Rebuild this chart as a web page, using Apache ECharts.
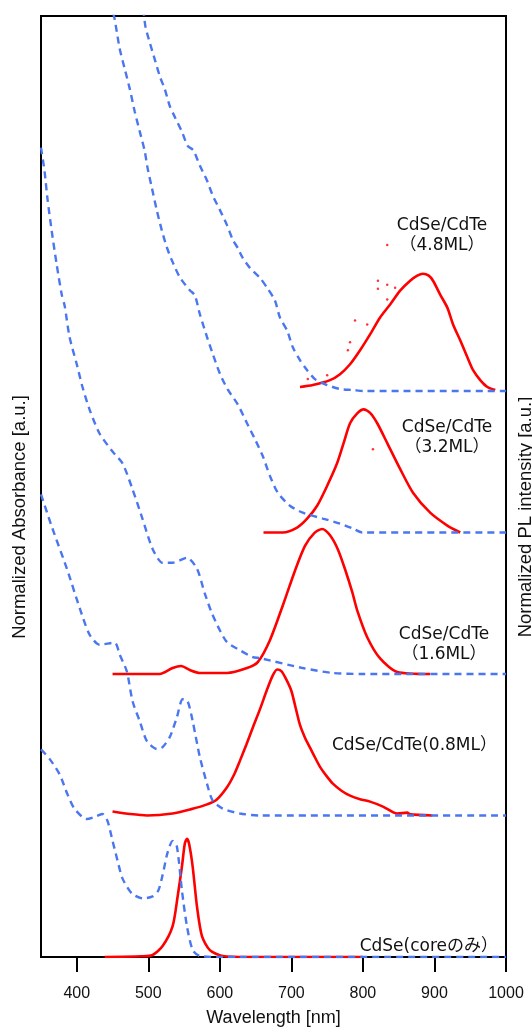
<!DOCTYPE html>
<html>
<head>
<meta charset="utf-8">
<script src="https://cdn.jsdelivr.net/npm/echarts@6/dist/echarts.min.js"></script>
<style>
  html, body { margin: 0; padding: 0; background: #fff; }
  #chart { width: 532px; height: 1032px; }
</style>
</head>
<body>
<div id="chart"></div>
<script>
// wavelength tick values
var WL_TICKS = [400, 500, 600, 700, 800, 900, 1000];

// vertical offset of each sample (in units of one stacking step)
var OFFSETS = [0, 1, 2, 3, 4];

// absorbance (dashed blue) [wavelength nm, normalized value above its baseline]
var absCore = [[350,1.467],[362,1.40],[376,1.291],[387,1.150],[397,1.046],[414,0.975],[428,0.996],[436,1.011],[443,0.961],
  [450,0.821],[457,0.681],[464,0.554],[477,0.449],[492,0.414],[506,0.428],[514,0.47],[520,0.58],[527,0.74],
  [534,0.821],[540,0.779],[547,0.470],[554,0.218],[562,0.049],[572,0.007],[600,0],[1000,0]];
var abs08 = [[350,2.27],[366,2.028],[386,1.747],[404,1.467],[418,1.277],[432,1.207],[453,1.221],[460,1.137],
  [470,1.018],[478,0.807],[488,0.667],[498,0.526],[512,0.470],[520,0.484],[530,0.554],[540,0.695],[548,0.821],
  [555,0.807],[562,0.667],[572,0.414],[582,0.225],[590,0.105],[604,0.049],[628,0.014],[656,0],[1000,0]];
var abs16 = [[350,3.72],[355,3.551],[359,3.361],[365,3.130],[372,2.891],[379,2.681],[383,2.604],[390,2.379],
  [400,2.189],[408,2.028],[418,1.867],[432,1.698],[450,1.572],[464,1.488],[478,1.305],[492,1.095],[506,0.884],
  [520,0.786],[534,0.786],[554,0.821],[568,0.744],[579,0.568],[589,0.428],[600,0.309],[610,0.225],[628,0.168],
  [646,0.119],[656,0.112],[716,0.042],[758,0.007],[800,0],[1000,0]];
var abs32 = [[445,3.75],[452,3.649],[456,3.537],[460,3.418],[467,3.277],[474,3.137],[481,2.975],[488,2.835],
  [495,2.695],[499,2.575],[505,2.435],[512,2.274],[519,2.133],[526,2.014],[533,1.923],[544,1.804],[558,1.712],
  [565,1.677],[572,1.544],[582,1.382],[590,1.263],[600,1.123],[611,1.011],[625,0.905],[638,0.772],[649,0.660],
  [660,0.540],[670,0.400],[681,0.281],[698,0.189],[716,0.140],[744,0.098],[768,0.063],[786,0.028],[799,0],[1000,0]];
var abs48 = [[493,2.70],[496,2.575],[502,2.463],[509,2.344],[516,2.225],[523,2.133],[530,2.014],[537,1.937],
  [547,1.832],[555,1.733],[563,1.70],[572,1.593],[582,1.488],[590,1.382],[600,1.28],[610,1.172],[618,1.07],
  [625,1.011],[632,0.940],[642,0.870],[656,0.800],[666,0.730],[677,0.639],[684,0.519],[694,0.428],[702,0.309],
  [712,0.218],[722,0.147],[733,0.084],[750,0.042],[768,0.014],[786,0.007],[800,0],[1000,0]];

// photoluminescence (solid red)
var plCore = [[439,0],[490,0.005],[506,0.014],[520,0.077],[534,0.218],[541,0.428],[547,0.639],[551,0.800],
  [554,0.835],[557,0.800],[562,0.639],[568,0.358],[575,0.147],[586,0.049],[604,0.007],[640,0],[800,0]];
var pl08 = [[450,0.028],[475,0.01],[498,0],[534,0.014],[560,0.045],[580,0.075],[595,0.11],[610,0.2],[620,0.29],
  [628,0.386],[637,0.5],[646,0.62],[656,0.75],[666,0.89],[674,0.99],[680,1.032],[686,1.02],[693,0.96],[700,0.88],
  [706,0.76],[712,0.64],[719,0.55],[726,0.48],[733,0.41],[740,0.344],[749,0.28],[758,0.225],[770,0.175],[782,0.14],
  [796,0.115],[810,0.098],[828,0.063],[848,0.014],[862,0.02],[866,0.008],[897,0]];
var pl16 = [[450,0],[516,0],[534,0.042],[546,0.056],[558,0.028],[572,0.007],[610,0.007],[638,0.042],[653,0.084],
  [670,0.239],[688,0.484],[705,0.730],[719,0.905],[732,0.996],[743,1.025],[754,0.98],[765,0.88],[775,0.74],
  [785,0.58],[792,0.45],[806,0.26],[824,0.11],[848,0.014],[894,0]];
var pl32 = [[661,0],[688,0],[708,0.035],[722,0.098],[736,0.189],[750,0.330],[764,0.491],[773,0.632],[782,0.772],
  [792,0.842],[801,0.870],[810,0.845],[820,0.772],[834,0.632],[852,0.449],[870,0.281],[894,0.140],[918,0.049],[936,0]];
var pl48 = [[712,0.028],[730,0.042],[754,0.077],[768,0.119],[782,0.189],[796,0.288],[810,0.400],[824,0.519],
  [838,0.611],[852,0.709],[866,0.779],[876,0.815],[884,0.828],[892,0.815],[898,0.779],[908,0.681],[918,0.589],
  [926,0.470],[936,0.358],[946,0.239],[954,0.147],[964,0.077],[974,0.028],[985,0.007]];

// stray PL points (sample index, wavelength, value)
var plStray = [[4,834,1.032],[4,821,0.779],[4,821,0.723],[4,834,0.751],[4,845,0.730],[4,834,0.646],[4,789,0.498],
  [4,806,0.470],[4,782,0.344],[4,779,0.288],[4,750,0.112],[4,723,0.084],[3,814,0.589]];

var absList = [absCore, abs08, abs16, abs32, abs48];
var plList = [plCore, pl08, pl16, pl32, pl48];

var BLUE = '#4a76f0';
var RED = '#ff0000';
var LBL = '"DejaVu Sans", "Noto Sans CJK JP", sans-serif';
var SANS = '"Liberation Sans", Arial, sans-serif';

function lift(pts, k) {
  return pts.map(function (p) { return [p[0], p[1] + OFFSETS[k]]; });
}

var series = [];
plList.forEach(function (pts, k) {
  series.push({
    type: 'line', data: lift(pts, k), showSymbol: false, smooth: 0.25,
    lineStyle: { color: RED, width: 2.6 }, z: 2
  });
});
series.push({
  type: 'scatter', symbolSize: 2.5, itemStyle: { color: RED }, z: 2,
  data: plStray.map(function (s) { return [s[1], s[2] + OFFSETS[s[0]]]; })
});
absList.forEach(function (pts, k) {
  series.push({
    type: 'line', data: lift(pts, k), showSymbol: false, smooth: 0.25,
    lineStyle: { color: BLUE, width: 2.4, type: [7, 5] }, z: 3
  });
});

function label(text, x, y, align) {
  return {
    type: 'text', x: x, y: y, z: 10,
    style: { text: text, align: align || 'center', verticalAlign: 'middle',
      font: '17px ' + LBL, fill: '#111', lineHeight: 20 }
  };
}

var chart = echarts.init(document.getElementById('chart'), null, { renderer: 'canvas' });
chart.setOption({
  animation: false,
  backgroundColor: '#fff',
  grid: { left: 41, right: 26, top: 16, bottom: 68, show: true, borderColor: '#000', borderWidth: 2 },
  xAxis: {
    type: 'value', min: 350, max: 1000,
    axisLine: { show: false },
    axisTick: { show: true, customValues: WL_TICKS, length: 15, lineStyle: { color: '#000', width: 2 } },
    axisLabel: { customValues: WL_TICKS, fontSize: 16, color: '#111', fontFamily: SANS, margin: 29,
      formatter: function (v) { return String(v); } },
    splitLine: { show: false },
    name: 'Wavelength [nm]', nameLocation: 'middle', nameGap: 52,
    nameTextStyle: { fontSize: 18, color: '#111', fontFamily: SANS }
  },
  yAxis: {
    type: 'value', min: 0, max: 6.65,
    axisLine: { show: false }, axisTick: { show: false }, axisLabel: { show: false }, splitLine: { show: false }
  },
  graphic: [
    { type: 'text', x: 20, y: 517, rotation: Math.PI / 2, z: 10,
      style: { text: 'Normalized Absorbance [a.u.]', align: 'center', verticalAlign: 'middle',
        font: '18.5px ' + SANS, fill: '#111' } },
    { type: 'text', x: 526, y: 517, rotation: Math.PI / 2, z: 10,
      style: { text: 'Normalized PL intensity [a.u.]', align: 'center', verticalAlign: 'middle',
        font: '18.5px ' + SANS, fill: '#111' } },
    label('CdSe/CdTe\n（4.8ML）', 442, 236),
    label('CdSe/CdTe\n（3.2ML）', 447, 438),
    label('CdSe/CdTe\n（1.6ML）', 444, 645),
    label('CdSe/CdTe(0.8ML）', 497, 746, 'right'),
    label('CdSe(coreのみ）', 498, 947, 'right')
  ],
  series: series
});
</script>
</body>
</html>
